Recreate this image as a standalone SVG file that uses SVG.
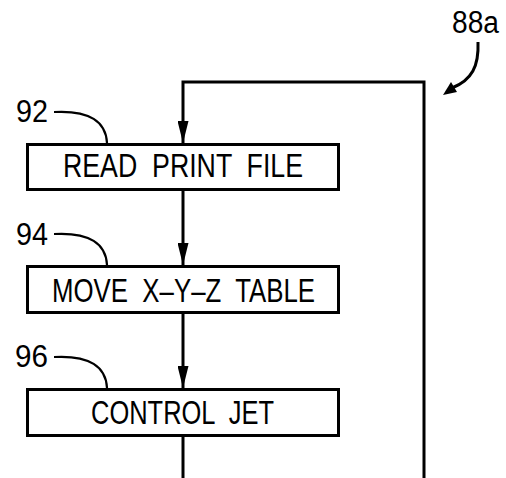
<svg xmlns="http://www.w3.org/2000/svg" width="506" height="478" viewBox="0 0 506 478">
  <style>
    .box { fill: #fff; stroke: #000; stroke-width: 3; }
    .line { fill: none; stroke: #000; stroke-width: 3; }
    .lead { fill: none; stroke: #000; stroke-width: 2.2; }
    .txt { font-family: "Liberation Sans", Arial, sans-serif; font-size: 32.5px; fill: #000; white-space: pre; }
    .ref { font-family: "Liberation Sans", Arial, sans-serif; font-size: 31px; fill: #000; }
  </style>
  <defs>
    <marker id="arrow" markerUnits="userSpaceOnUse" markerWidth="22" markerHeight="11" refX="22" refY="5.5" orient="auto" viewBox="0 0 22 11">
      <path d="M0,0 L22,5.5 L0,11 Z" fill="#000"/>
    </marker>
  </defs>
  <rect width="506" height="478" fill="#fff"/>

  <g id="connectors">
    <!-- feedback loop back to the top step -->
    <path class="line" d="M424,478 L424,82 L183,82 L183,143" marker-end="url(#arrow)"/>
    <path class="line" d="M183,190 L183,265" marker-end="url(#arrow)"/>
    <path class="line" d="M183,314 L183,388" marker-end="url(#arrow)"/>
    <path class="line" d="M183,437 L183,478"/>
  </g>

  <g id="read-print-file">
    <rect class="box" x="27.5" y="144.5" width="311" height="45"/>
    <text class="txt" x="63" y="177" textLength="240" lengthAdjust="spacingAndGlyphs" xml:space="preserve">READ  PRINT  FILE</text>
    <path class="lead" d="M54,112 C90,110 106,122 107,143"/>
    <text class="ref" x="16" y="122" textLength="32" lengthAdjust="spacingAndGlyphs">92</text>
  </g>

  <g id="move-table">
    <rect class="box" x="27.5" y="266.5" width="311" height="46"/>
    <text class="txt" x="52" y="302" textLength="263" lengthAdjust="spacingAndGlyphs" xml:space="preserve">MOVE  X–Y–Z  TABLE</text>
    <path class="lead" d="M54,234 C90,232 106,244 107,265"/>
    <text class="ref" x="16" y="245" textLength="32" lengthAdjust="spacingAndGlyphs">94</text>
  </g>

  <g id="control-jet">
    <rect class="box" x="27.5" y="389.5" width="311" height="46"/>
    <text class="txt" x="91" y="424" textLength="183" lengthAdjust="spacingAndGlyphs" xml:space="preserve">CONTROL  JET</text>
    <path class="lead" d="M54,357 C90,355 106,367 107,388"/>
    <text class="ref" x="15" y="367" textLength="33" lengthAdjust="spacingAndGlyphs">96</text>
  </g>

  <g id="ref-88a">
    <text class="ref" x="452" y="33" textLength="47" lengthAdjust="spacingAndGlyphs">88a</text>
    <path class="line" d="M478,42 C479,66 472,80 452,88"/>
    <path d="M443,95 L451,82 L457,92 Z" fill="#000"/>
  </g>
</svg>
